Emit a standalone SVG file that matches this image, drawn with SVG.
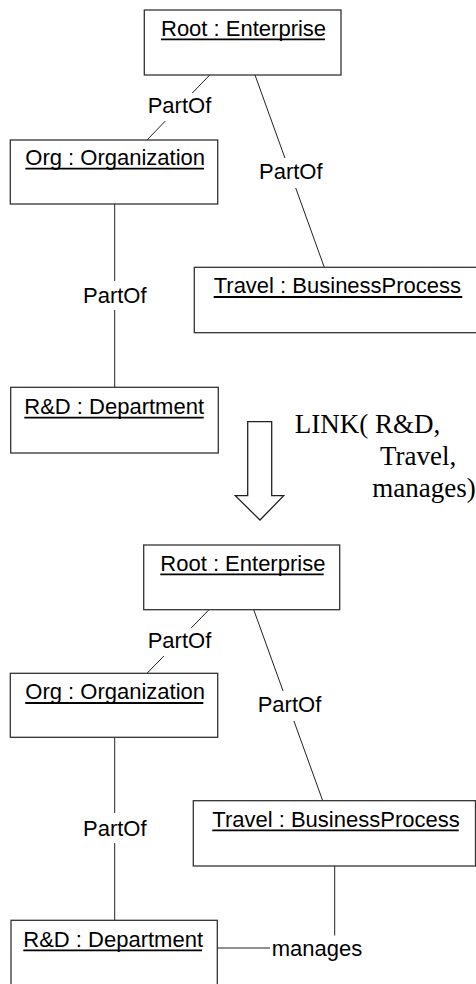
<svg xmlns="http://www.w3.org/2000/svg" width="476" height="984" viewBox="0 0 476 984">
  <style>
    .box { fill: #ffffff; stroke: #333333; stroke-width: 1.3; }
    .conn { stroke: #222222; stroke-width: 1; fill: none; }
    .name { font-family: "Liberation Sans", Arial, sans-serif; font-size: 22px; fill: #000000; }
    .uline { stroke: #000000; stroke-width: 1.8; }
    .lbl { font-family: "Liberation Sans", Arial, sans-serif; font-size: 22px; fill: #000000; }
    .lblbg { fill: #ffffff; stroke: none; }
    .op { font-family: "Liberation Serif", "Times New Roman", serif; font-size: 27px; fill: #000000; }
    .bigarrow { fill: #ffffff; stroke: #222222; stroke-width: 1.3; }
  </style>

  <!-- ===== Before: object model ===== -->
  <g id="connectors-before">
    <line class="conn" x1="209.7" y1="75" x2="147" y2="140"/>
    <line class="conn" x1="255" y1="75" x2="324.3" y2="267.3"/>
    <line class="conn" x1="114.7" y1="204" x2="114.7" y2="387.3"/>
    <rect class="lblbg" x="146.5" y="93" width="65" height="28"/>
    <text class="lbl" x="147.7" y="113">PartOf</text>
    <rect class="lblbg" x="258" y="158" width="65" height="30"/>
    <text class="lbl" x="259" y="179">PartOf</text>
    <rect class="lblbg" x="82" y="281" width="65" height="29"/>
    <text class="lbl" x="83" y="303.3">PartOf</text>
  </g>

  <g id="root-before">
    <rect class="box" x="144.3" y="10" width="196.7" height="65"/>
    <text class="name" x="161" y="35.7">Root : Enterprise</text>
    <line class="uline" x1="161" y1="39.4" x2="325" y2="39.4"/>
  </g>
  <g id="org-before">
    <rect class="box" x="10.3" y="140" width="207.4" height="64"/>
    <text class="name" x="25.3" y="165">Org : Organization</text>
    <line class="uline" x1="25.3" y1="168.7" x2="204" y2="168.7"/>
  </g>
  <g id="travel-before">
    <rect class="box" x="194.3" y="267.3" width="284" height="65.4"/>
    <text class="name" x="213.7" y="293.3">Travel : BusinessProcess</text>
    <line class="uline" x1="213.7" y1="297" x2="462.3" y2="297"/>
  </g>
  <g id="rnd-before">
    <rect class="box" x="10.7" y="387.3" width="207.6" height="65.7"/>
    <text class="name" x="24.3" y="414">R&amp;D : Department</text>
    <line class="uline" x1="24.3" y1="417.7" x2="203.7" y2="417.7"/>
  </g>

  <!-- ===== Transformation step ===== -->
  <g id="transform">
    <polygon class="bigarrow" points="247.7,421.7 271.7,421.7 271.7,495.7 283.7,495.7 260,520 235.3,495.7 247.7,495.7"/>
    <text class="op" x="294.7" y="433.3">LINK( R&amp;D,</text>
    <text class="op" x="380" y="465">Travel,</text>
    <text class="op" x="372.3" y="496.7">manages)</text>
  </g>

  <!-- ===== After: object model ===== -->
  <g id="connectors-after">
    <line class="conn" x1="209" y1="609.7" x2="147" y2="673.3"/>
    <line class="conn" x1="253.7" y1="609.7" x2="322.7" y2="800.7"/>
    <line class="conn" x1="114.7" y1="737.3" x2="114.7" y2="920.3"/>
    <rect class="lblbg" x="146.5" y="628" width="65" height="28"/>
    <text class="lbl" x="147.7" y="648.3">PartOf</text>
    <rect class="lblbg" x="256.5" y="691" width="65" height="30"/>
    <text class="lbl" x="257.7" y="712.3">PartOf</text>
    <rect class="lblbg" x="82" y="813" width="65" height="30"/>
    <text class="lbl" x="83" y="836">PartOf</text>
    <!-- new link -->
    <line class="conn" x1="217.3" y1="948" x2="270" y2="948"/>
    <line class="conn" x1="334.7" y1="866" x2="334.7" y2="935.5"/>
    <text class="lbl" x="271.7" y="956">manages</text>
  </g>

  <g id="root-after">
    <rect class="box" x="143.7" y="545" width="196" height="64.7"/>
    <text class="name" x="160.3" y="570.7">Root : Enterprise</text>
    <line class="uline" x1="160.3" y1="574.4" x2="323.7" y2="574.4"/>
  </g>
  <g id="org-after">
    <rect class="box" x="10.3" y="673.3" width="207.4" height="64"/>
    <text class="name" x="25.3" y="699.3">Org : Organization</text>
    <line class="uline" x1="25.3" y1="703" x2="203.3" y2="703"/>
  </g>
  <g id="travel-after">
    <rect class="box" x="193.3" y="800.7" width="282.2" height="65.3"/>
    <text class="name" x="212.3" y="826.7">Travel : BusinessProcess</text>
    <line class="uline" x1="212.3" y1="830.4" x2="458.7" y2="830.4"/>
  </g>
  <g id="rnd-after">
    <rect class="box" x="11" y="920.3" width="206.3" height="80"/>
    <text class="name" x="23.3" y="946.7">R&amp;D : Department</text>
    <line class="uline" x1="23.3" y1="950.4" x2="202" y2="950.4"/>
  </g>
</svg>
